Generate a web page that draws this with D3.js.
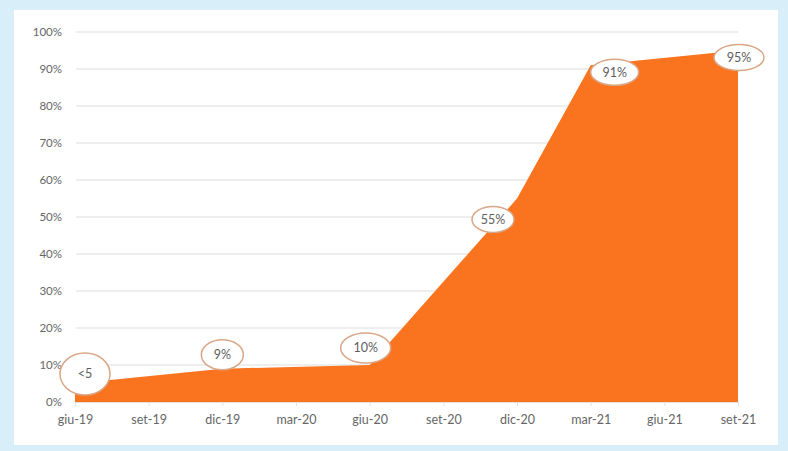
<!DOCTYPE html>
<html><head><meta charset="utf-8">
<script src="https://cdn.jsdelivr.net/npm/d3@7"></script>
<style>html,body{margin:0;padding:0;background:#fff}svg{display:block}</style>
</head><body>
<svg id="c" width="788" height="451"></svg>
<script>
const months = ["giu-19","set-19","dic-19","mar-20","giu-20","set-20","dic-20","mar-21","giu-21","set-21"];
const yTicks = [0,10,20,30,40,50,60,70,80,90,100];
const pointMonths = ["giu-19","dic-19","giu-20","dic-20","mar-21","set-21"];
const pointValues = [5, 9, 10, 55, 91, 95];
const pointLabels = ["<5","9%","10%","55%","91%","95%"];

const svg = d3.select("#c");
const W = 788, H = 451;
// frame
svg.append("rect").attr("x",0).attr("y",0).attr("width",W).attr("height",H).attr("fill","#d8eef9");
svg.append("rect").attr("x",14).attr("y",10).attr("width",764).attr("height",435).attr("fill","#ffffff");

const x = d3.scalePoint().domain(months).range([75, 738]);
const y = d3.scaleLinear().domain([0,100]).range([402, 32]);
const font = "Lato, 'Open Sans', sans-serif";

// grid
const grid = svg.append("g");
grid.selectAll("line").data(yTicks).join("line")
  .attr("x1",76).attr("x2",738)
  .attr("y1",d=>y(d)).attr("y2",d=>y(d))
  .attr("stroke","#dedede").attr("stroke-width",1.2);

// y axis labels
const yAxis = svg.append("g").attr("transform","translate(62,0)")
  .call(d3.axisLeft(y).tickValues(yTicks).tickFormat(d=>d+"%").tickSize(0).tickPadding(0));
yAxis.select(".domain").remove();
yAxis.selectAll("text").attr("font-family",font).attr("font-size",11.5).attr("fill","#666");

// area
const pts = pointMonths.map((m,i)=>({m, v:pointValues[i], l:pointLabels[i]}));
const area = d3.area().x(d=>x(d.m)).y0(y(0)).y1(d=>y(d.v));
svg.append("path").datum(pts).attr("d",area).attr("fill","#fa7420");

// x axis
const xAxis = svg.append("g").attr("transform",`translate(0,${y(0)})`)
  .call(d3.axisBottom(x).tickSize(4).tickPadding(9));
xAxis.select(".domain").attr("stroke","#e0e0e0");
xAxis.selectAll(".tick line").attr("stroke","#e0e0e0");
xAxis.selectAll("text").attr("font-family",font).attr("font-size",12.5).attr("fill","#666");

// labels (offsets relative to data point)
const offs = [[10,-9.5,25,21],[0,-14,21,15],[-4,-17,25,15],[-24,21,21,13],[24,7,24,13],[1,7,25,13]];
const lg = svg.append("g").selectAll("g").data(pts).join("g")
  .attr("transform",(d,i)=>`translate(${x(d.m)+offs[i][0]},${y(d.v)+offs[i][1]})`);
lg.append("ellipse").attr("rx",(d,i)=>offs[i][2]).attr("ry",(d,i)=>offs[i][3])
  .attr("fill","#ffffff").attr("stroke","#d9a686").attr("stroke-width",1.5);
lg.append("text").text(d=>d.l).attr("text-anchor","middle").attr("dy","0.35em")
  .attr("font-family",font).attr("font-size",12.5).attr("fill","#5e5e5e");
</script>
</body></html>
